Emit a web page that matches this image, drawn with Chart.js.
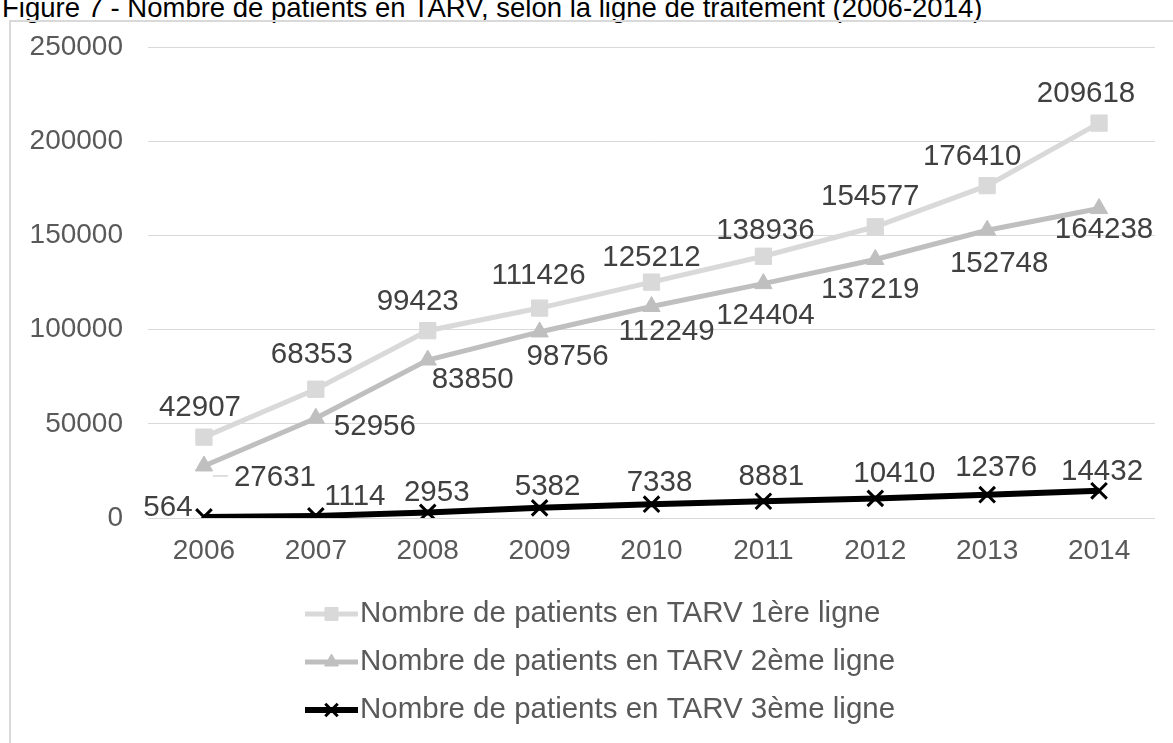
<!DOCTYPE html>
<html lang="fr">
<head>
<meta charset="utf-8">
<title>Nombre de patients en TARV</title>
<script src="https://cdn.jsdelivr.net/npm/chart.js@4.4.1/dist/chart.umd.min.js"></script>
<style>
  html, body { margin: 0; padding: 0; background: #fff; overflow: hidden; }
  body { width: 1173px; height: 743px; position: relative; font-family: 'Liberation Sans', Arial, sans-serif; }
  .title { position: absolute; left: 2px; top: -6px; font-size: 27.5px; line-height: 28px; color: #000; white-space: nowrap; }
  .frame { position: absolute; left: 9px; top: 20px; width: 1300px; height: 900px; border: 2px solid #d9d9d9; }
  .wrap { position: absolute; left: 0; top: 0; width: 1173px; height: 743px; }
</style>
</head>
<body>
<div class="title">Figure 7 - Nombre de patients en TARV, selon la ligne de traitement (2006-2014)</div>
<div class="frame"></div>
<div class="wrap"><canvas id="tarvChart"></canvas></div>

<script>
// ── Data ──
const years = ['2006','2007','2008','2009','2010','2011','2012','2013','2014'];
const firstLine  = [42907, 68353, 99423, 111426, 125212, 138936, 154577, 176410, 209618];
const secondLine = [27631, 52956, 83850, 98756, 112249, 124404, 137219, 152748, 164238];
const thirdLine  = [564, 1114, 2953, 5382, 7338, 8881, 10410, 12376, 14432];
const seriesNames = [
  'Nombre de patients en TARV 1ère ligne',
  'Nombre de patients en TARV 2ème ligne',
  'Nombre de patients en TARV 3ème ligne'
];
const yMin = 0, yMax = 250000, yStep = 50000;

// label offsets (px) from each point, as placed in the original
const labelOffsets = [
  [[-4,-29],[-4,-34],[-10,-29],[-1,-32],[0,-24],[2,-25],[-5,-30],[-15,-29],[-13,-29]],
  [[71,12],[59,9],[45,20],[28,25],[15,25],[2,32],[-5,30],[12,34],[5,21]],
  [[-36,-9],[39,-19],[9,-20],[8,-21],[8,-21],[8,-24],[19,-25],[9,-27],[3,-19]]
];

const FONT = "'Liberation Sans', Arial, sans-serif";
const FS = 28;      // axis ticks
const FS_LBL = 29.5; // data labels + legend

// ── Data labels ──
const dataLabels = {
  id: 'dataLabels',
  afterDatasetsDraw(chart) {
    const ctx = chart.ctx;
    ctx.save();
    ctx.font = FS_LBL + 'px ' + FONT;
    ctx.fillStyle = '#404040';
    ctx.textAlign = 'center';
    ctx.textBaseline = 'middle';
    chart.data.datasets.forEach((ds, di) => {
      const meta = chart.getDatasetMeta(di);
      meta.data.forEach((pt, i) => {
        const off = labelOffsets[di][i];
        ctx.fillText(String(ds.data[i]), pt.x + off[0], pt.y + off[1]);
      });
    });
    // leader line for the first 2nd-line label
    const p = chart.getDatasetMeta(1).data[0];
    ctx.strokeStyle = '#bfbfbf';
    ctx.lineWidth = 1;
    ctx.beginPath();
    ctx.moveTo(p.x + 9, p.y + 10);
    ctx.lineTo(p.x + 24, p.y + 10);
    ctx.stroke();
    ctx.restore();
  }
};

// ── Legend (vertical, bottom) ──
const sideLegend = {
  id: 'sideLegend',
  afterDraw(chart) {
    const ctx = chart.ctx;
    const rows = [614, 662, 710];
    const x0 = 305, x1 = 358;
    ctx.save();
    chart.data.datasets.forEach((ds, i) => {
      const y = rows[i];
      ctx.strokeStyle = ds.borderColor;
      ctx.lineWidth = ds.borderWidth;
      ctx.beginPath();
      ctx.moveTo(x0, y);
      ctx.lineTo(x1, y);
      ctx.stroke();
      ctx.fillStyle = ds.pointBackgroundColor;
      ctx.strokeStyle = ds.pointBorderColor;
      ctx.lineWidth = ds.pointBorderWidth;
      Chart.helpers.drawPoint(ctx, { pointStyle: ds.pointStyle, radius: ds.pointRadius * 0.8, rotation: 0, borderWidth: ds.pointBorderWidth }, (x0 + x1) / 2, y);
      ctx.font = FS_LBL + 'px ' + FONT;
      ctx.fillStyle = '#595959';
      ctx.textAlign = 'left';
      ctx.textBaseline = 'middle';
      ctx.fillText(ds.label, x1 + 2, y);
    });
    ctx.restore();
  }
};

new Chart(document.getElementById('tarvChart').getContext('2d'), {
  type: 'line',
  data: {
    labels: years,
    datasets: [
      {
        label: seriesNames[0], data: firstLine,
        borderColor: '#d9d9d9', borderWidth: 5, tension: 0,
        pointStyle: 'rect', pointRadius: 11.5,
        pointBackgroundColor: '#d9d9d9', pointBorderColor: '#d9d9d9', pointBorderWidth: 1,
      },
      {
        label: seriesNames[1], data: secondLine,
        borderColor: '#bfbfbf', borderWidth: 5, tension: 0,
        pointStyle: 'triangle', pointRadius: 10,
        pointBackgroundColor: '#bfbfbf', pointBorderColor: '#bfbfbf', pointBorderWidth: 1,
      },
      {
        label: seriesNames[2], data: thirdLine,
        borderColor: '#000000', borderWidth: 6, tension: 0,
        pointStyle: 'crossRot', pointRadius: 11,
        pointBackgroundColor: '#000000', pointBorderColor: '#000000', pointBorderWidth: 3,
      }
    ]
  },
  options: {
    responsive: true,
    maintainAspectRatio: false,
    animation: false,
    devicePixelRatio: 1,
    layout: { padding: { left: 0, top: 47, right: 18, bottom: 0 } },
    plugins: { legend: { display: false }, tooltip: { enabled: false }, title: { display: false } },
    scales: {
      x: {
        offset: true,
        grid: { display: false, drawTicks: false },
        border: { display: false },
        ticks: { font: { family: FONT, size: FS }, color: '#595959', padding: 16, maxRotation: 0 },
        afterFit: s => { s.height = 225; }
      },
      y: {
        min: yMin, max: yMax,
        grid: { color: '#d9d9d9', lineWidth: 1, drawTicks: false },
        border: { display: false },
        ticks: { stepSize: yStep, font: { family: FONT, size: FS }, color: '#595959', padding: 25,
                 callback: v => String(v) },
        afterFit: s => { s.width = 148; }
      }
    }
  },
  plugins: [dataLabels, sideLegend]
});
</script>
</body>
</html>
